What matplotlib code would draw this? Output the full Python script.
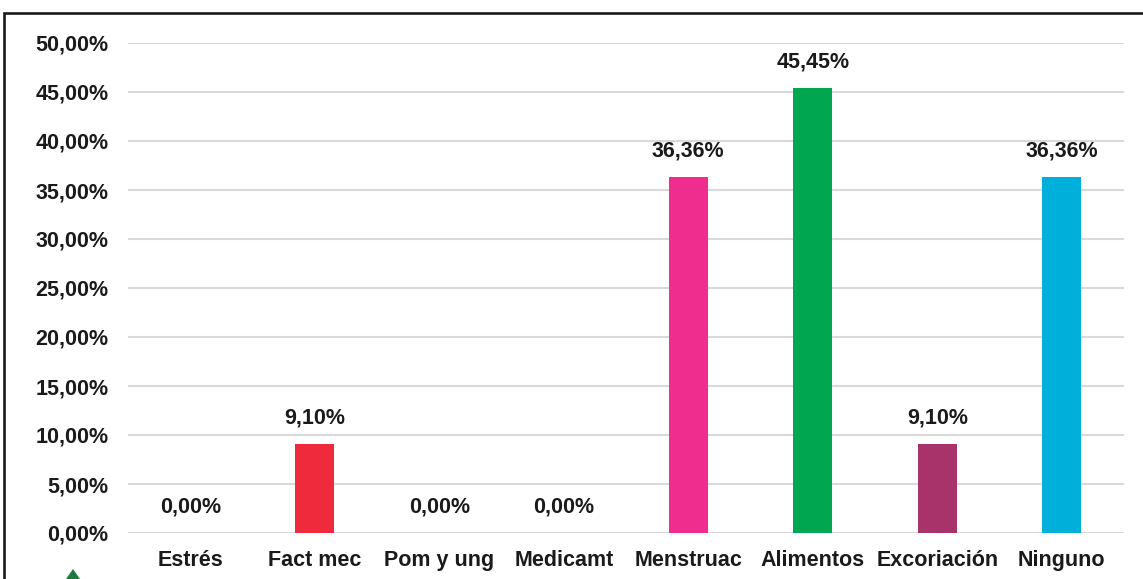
import matplotlib.pyplot as plt
from matplotlib.patches import Rectangle, Polygon
from matplotlib.ticker import FuncFormatter

plt.rcParams['font.family'] = ['Liberation Sans', 'DejaVu Sans']

categories = ["Estrés", "Fact mec", "Pom y ung", "Medicamt",
              "Menstruac", "Alimentos", "Excoriación", "Ninguno"]
values = [0.0, 9.10, 0.0, 0.0, 36.36, 45.45, 9.10, 36.36]
bar_colors = ["#A6A6A6", "#EE2A3C", "#A6A6A6", "#A6A6A6",
              "#EE2D8E", "#00A650", "#A8336A", "#00B0DA"]
y_ticks = [0, 5, 10, 15, 20, 25, 30, 35, 40, 45, 50]


def pct(v):
    return f"{v:.2f}".replace(".", ",") + "%"


fig = plt.figure(figsize=(11.43, 5.79), dpi=100)
ax = fig.add_axes([128 / 1143, 1 - 533 / 579, (1124 - 128) / 1143, (533 - 43) / 579])

x = range(len(categories))
ax.bar(x, values, width=0.315, color=bar_colors, zorder=3)

for xi, v in zip(x, values):
    ax.annotate(pct(v), (xi, v), xytext=(0, 11), textcoords="offset points",
                ha="center", va="bottom", fontsize=15.5, fontweight="bold",
                color="#1A1A1A")

ax.set_xlim(-0.5, len(categories) - 0.5)
ax.set_ylim(0, 50)
ax.set_yticks(y_ticks)
ax.yaxis.set_major_formatter(FuncFormatter(lambda v, _: pct(v)))
ax.set_xticks(list(x))
ax.set_xticklabels(categories)
ax.grid(axis="y", color="#D9D9D9", linewidth=1.5, zorder=0)
ax.tick_params(axis="y", length=0, pad=14, labelsize=15.5)
ax.tick_params(axis="x", length=0, pad=12, labelsize=15.5)
for lbl in ax.get_yticklabels() + ax.get_xticklabels():
    lbl.set_fontweight("bold")
    lbl.set_color("#1A1A1A")
for s in ax.spines.values():
    s.set_visible(False)

# outer frame of the chart area, running past the right and bottom edges
fig.patches.append(Rectangle((4 / 1143, -0.2), 1.2, 1.2 - 13 / 579,
                             transform=fig.transFigure, fill=False,
                             edgecolor="#1A1A1A", linewidth=1.9, clip_on=False))
# small green logo mark at the lower left
fig.patches.append(Polygon([(62 / 1143, -0.01), (73 / 1143, 1 - 569 / 579),
                            (84 / 1143, -0.01)],
                           closed=True, transform=fig.transFigure,
                           facecolor="#1E7A3C", edgecolor="none"))

fig.savefig("out.png", dpi=100)
